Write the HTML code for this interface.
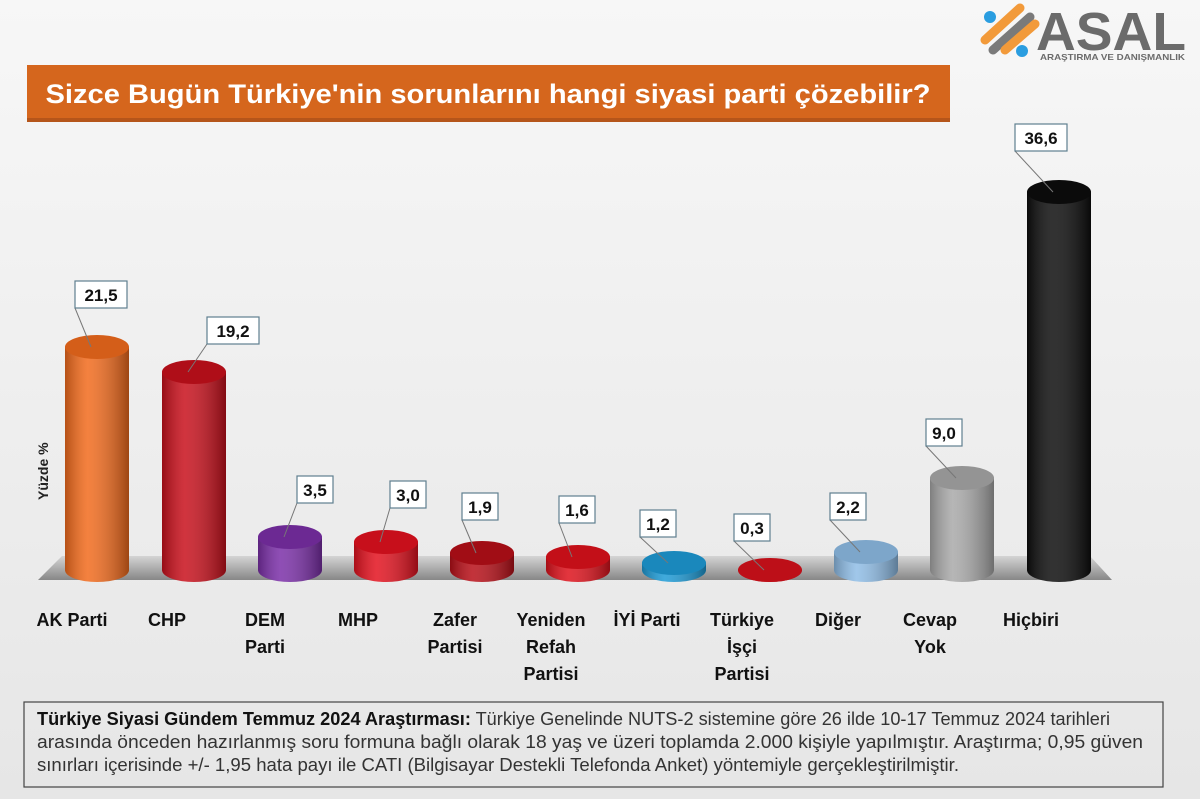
<!DOCTYPE html>
<html><head><meta charset="utf-8"><style>
body{margin:0;width:1200px;height:799px;overflow:hidden;background:#eeeeee;font-family:"Liberation Sans","DejaVu Sans",sans-serif}
</style></head><body>
<svg width="1200" height="799" xmlns="http://www.w3.org/2000/svg" style="position:absolute;left:0;top:0">
<defs>
<linearGradient id="bg" x1="0" y1="0" x2="0" y2="1"><stop offset="0" stop-color="#f7f7f7"/><stop offset="1" stop-color="#e6e6e6"/></linearGradient>
<linearGradient id="fl" x1="0" y1="0" x2="0" y2="1"><stop offset="0" stop-color="#cfcfcf"/><stop offset="1" stop-color="#6e6e6e"/></linearGradient>
<linearGradient id="sh" x1="0" y1="0" x2="1" y2="0"><stop offset="0" stop-color="#000" stop-opacity=".25"/><stop offset=".35" stop-color="#fff" stop-opacity=".15"/><stop offset="1" stop-color="#000" stop-opacity=".35"/></linearGradient>
</defs>
<rect width="1200" height="799" fill="url(#bg)"/>
<g>
<circle cx="990" cy="17" r="6" fill="#2a9de0"/><circle cx="1022" cy="51" r="6" fill="#2a9de0"/>
<path d="M985 40 L1020 8" stroke="#f29a3a" stroke-width="9" stroke-linecap="round"/>
<path d="M993 50 L1030 17" stroke="#7a7a7a" stroke-width="9" stroke-linecap="round"/>
<path d="M1005 50 L1035 24" stroke="#f29a3a" stroke-width="9" stroke-linecap="round"/>
<text x="1036" y="50" font-size="54" font-weight="bold" fill="#6b6b6b" textLength="150" lengthAdjust="spacingAndGlyphs">ASAL</text>
<text x="1040" y="60" font-size="8.5" font-weight="bold" fill="#6b6b6b" textLength="145" lengthAdjust="spacingAndGlyphs">ARAŞTIRMA VE DANIŞMANLIK</text>
</g>
<rect x="27" y="65" width="923" height="57" fill="#d5661d"/>
<rect x="27" y="118" width="923" height="4" fill="#b5551a"/>
<text x="488" y="103" text-anchor="middle" font-size="27" font-weight="bold" fill="#fff" textLength="885" lengthAdjust="spacingAndGlyphs">Sizce Bugün Türkiye'nin sorunlarını hangi siyasi parti çözebilir?</text>
<polygon points="38,580 1112,580 1090,556 62,556" fill="url(#fl)" opacity=".8"/>
<text transform="translate(48,500) rotate(-90)" font-size="14" font-weight="bold" fill="#222">Yüzde  %</text>
<g id="bars"></g>
<rect x="24" y="702" width="1139" height="85" fill="none" stroke="#444" stroke-width="1.2"/>
<g font-size="18" fill="#333">
<text x="37" y="725" textLength="1073" lengthAdjust="spacingAndGlyphs"><tspan font-weight="bold" fill="#111">Türkiye Siyasi Gündem Temmuz 2024 Araştırması:</tspan> Türkiye Genelinde NUTS-2 sistemine göre 26 ilde 10-17 Temmuz 2024 tarihleri</text>
<text x="37" y="748" textLength="1106" lengthAdjust="spacingAndGlyphs">arasında önceden hazırlanmış soru formuna bağlı olarak 18 yaş ve üzeri toplamda 2.000 kişiyle yapılmıştır. Araştırma; 0,95 güven</text>
<text x="37" y="771" textLength="922" lengthAdjust="spacingAndGlyphs">sınırları içerisinde +/- 1,95 hata payı ile CATI (Bilgisayar Destekli Telefonda Anket) yöntemiyle gerçekleştirilmiştir.</text>
</g>
</svg>
<script>
var d=[["AK Parti",72,97,347,"#f26b1d","21,5",101,295,52],["CHP",167,194,372,"#c8101c","19,2",233,331,52],["DEM|Parti",265,290,537,"#7b2fa8","3,5",315,490,36],["MHP",358,386,542,"#e3121f","3,0",408,495,36],["Zafer|Partisi",455,482,553,"#b80f18","1,9",480,507,36],["Yeniden|Refah|Partisi",551,578,557,"#de121c","1,6",577,510,36],["İYİ Parti",647,674,563,"#1e9bd6","1,2",658,524,36],["Türkiye|İşçi|Partisi",742,770,570,"#d8121c","0,3",752,528,36],["Diğer",838,866,552,"#8fbde6","2,2",848,507,36],["Cevap|Yok",930,962,478,"#a9a9a9","9,0",944,433,36],["Hiçbiri",1031,1059,192,"#0d0d0d","36,6",1041,138,52]];
var s="",B=570,w=32,ry=12;
d.forEach(function(b,i){var x=b[2],t=b[3],c=b[4];
var p='M'+(x-w)+' '+t+' L'+(x-w)+' '+B+' A'+w+' '+ry+' 0 0 0 '+(x+w)+' '+B+' L'+(x+w)+' '+t+' Z';
s+='<path d="'+p+'" fill="'+c+'"/><path d="'+p+'" fill="url(#sh)"/>';
s+='<ellipse cx="'+x+'" cy="'+t+'" rx="'+w+'" ry="'+ry+'" fill="'+c+'"/>';
s+='<ellipse cx="'+x+'" cy="'+t+'" rx="'+w+'" ry="'+ry+'" fill="#000" opacity=".12"/>';
var lx=b[6],ly=b[7],bw=b[8];
s+='<line x1="'+(x-6)+'" y1="'+t+'" x2="'+(lx-bw/2)+'" y2="'+(ly+13)+'" stroke="#777" stroke-width="1"/>';
s+='<rect x="'+(lx-bw/2)+'" y="'+(ly-14)+'" width="'+bw+'" height="27" fill="#fff" stroke="#5f7f8f" stroke-width="1.2"/>';
s+='<text x="'+lx+'" y="'+(ly+6)+'" text-anchor="middle" font-size="17" font-weight="bold" fill="#111">'+b[5]+'</text>';
b[0].split("|").forEach(function(l,j){s+='<text x="'+b[1]+'" y="'+(626+j*27)+'" text-anchor="middle" font-size="18" font-weight="bold" fill="#111">'+l+'</text>';});
});
document.getElementById("bars").innerHTML=s;
</script>
</body></html>
